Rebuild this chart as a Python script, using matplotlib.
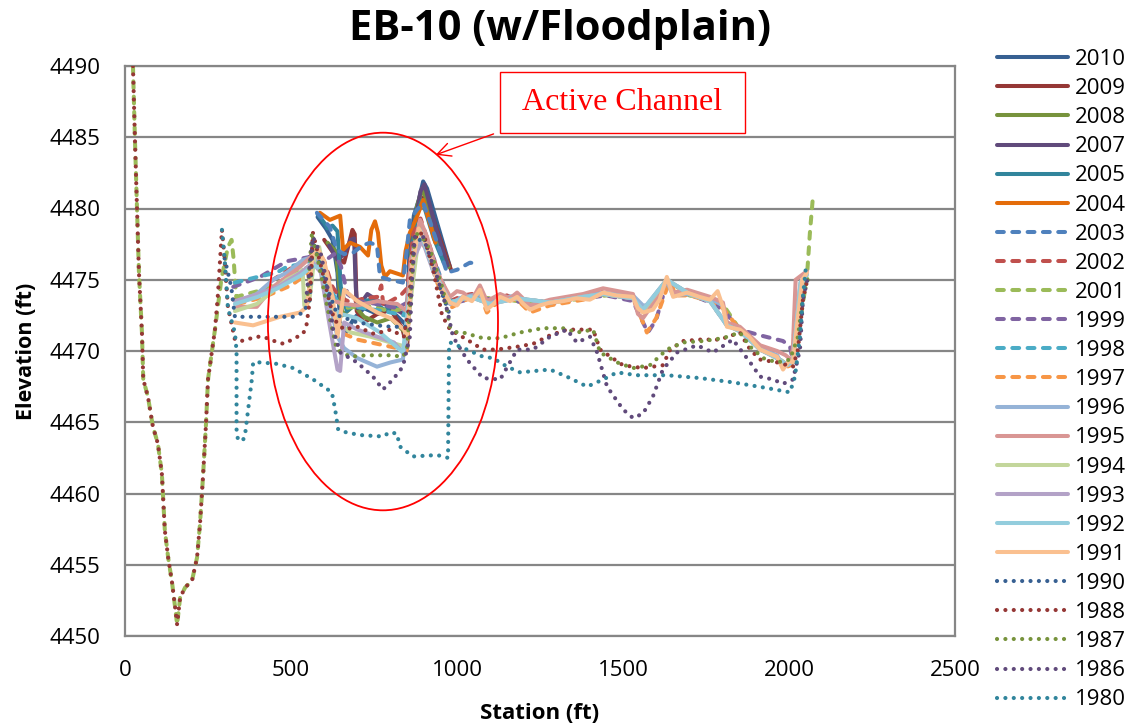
import matplotlib
matplotlib.use("Agg")
import matplotlib.pyplot as plt
from matplotlib.patches import Ellipse, Rectangle

# ---------------- data (station ft, elevation ft) ----------------
x_2010 = [580, 605, 625, 640, 648, 665, 690, 720, 760, 800, 830, 848, 856, 870, 885, 898, 910, 945, 979]
y_2010 = [4479.4, 4478.6, 4477.8, 4475.5, 4471.8, 4471.3, 4472.3, 4473.0, 4472.6, 4472.9, 4472.2, 4471.8, 4476.5, 4479.5, 4480.6, 4481.9, 4481.4, 4478.6, 4475.9]

x_2009 = [600, 630, 660, 685, 692, 698, 720, 760, 800, 835, 850, 860, 878, 905, 935, 982]
y_2009 = [4477.8, 4476.8, 4476.2, 4478.5, 4478.2, 4472.8, 4472.0, 4472.6, 4472.9, 4471.6, 4470.2, 4476.0, 4479.8, 4481.0, 4478.8, 4475.7]

x_2008 = [610, 635, 655, 690, 720, 760, 800, 840, 852, 862, 880, 895, 905, 940, 975]
y_2008 = [4477.6, 4477.0, 4472.5, 4473.2, 4472.4, 4472.0, 4472.3, 4471.4, 4471.8, 4476.8, 4480.2, 4481.4, 4480.8, 4478.0, 4475.9]

x_2007 = [615, 640, 660, 680, 690, 695, 700, 730, 770, 810, 845, 855, 870, 890, 902, 935, 972]
y_2007 = [4477.4, 4476.4, 4476.8, 4477.8, 4477.9, 4474.5, 4473.0, 4474.0, 4473.4, 4473.0, 4472.5, 4473.5, 4478.5, 4481.2, 4481.7, 4478.7, 4476.0]

x_2005 = [580, 600, 610, 625, 640, 650, 668, 700, 740, 780, 820, 850, 862, 878, 895, 930, 960]
y_2005 = [4479.6, 4479.0, 4478.6, 4478.8, 4478.4, 4474.5, 4472.8, 4473.4, 4473.6, 4472.9, 4473.2, 4472.8, 4476.5, 4479.6, 4480.6, 4477.9, 4476.2]

x_2004 = [587, 617, 648, 657, 678, 708, 732, 742, 753, 762, 772, 783, 798, 837, 845, 858, 879, 898, 915, 935]
y_2004 = [4479.7, 4479.2, 4479.5, 4477.1, 4477.6, 4477.3, 4476.7, 4478.5, 4479.1, 4478.3, 4476.0, 4475.2, 4475.6, 4475.3, 4477.0, 4478.3, 4479.4, 4480.6, 4479.2, 4477.6]

x_2003 = [578, 617, 638, 660, 687, 715, 738, 759, 768, 798, 837, 849, 858, 879, 898, 920, 940, 970, 1000, 1039, 1063]
y_2003 = [4479.7, 4478.7, 4477.1, 4476.8, 4476.9, 4477.4, 4477.6, 4477.4, 4475.2, 4475.0, 4474.8, 4477.1, 4479.2, 4479.9, 4480.4, 4479.0, 4477.6, 4475.5, 4475.7, 4476.2, 4476.1]

x_2002 = [326, 360, 397, 446, 500, 550, 575, 600, 625, 645, 680, 720, 760, 772, 778, 800, 830, 850, 868, 890, 920, 950, 979,
          1020, 1069, 1100, 1150, 1200, 1250, 1300, 1350, 1400, 1440]
y_2002 = [4473.6, 4473.6, 4473.9, 4475.0, 4475.8, 4476.5, 4477.0, 4476.3, 4474.5, 4473.8, 4473.4, 4473.7, 4473.8, 4474.6, 4473.2, 4473.5, 4473.9, 4474.4, 4478.2, 4479.3, 4477.2, 4475.0, 4473.5,
          4473.9, 4474.1, 4473.4, 4473.9, 4473.4, 4473.5, 4473.6, 4473.8, 4474.0, 4474.3]

x_2001 = [24, 30, 36, 42, 51, 55, 69, 84, 99, 111, 120, 130, 142, 151, 157, 166, 181, 202, 217, 226, 235, 244, 250, 262, 271, 290, 310, 321, 327, 335,
          400, 480, 560, 580, 620, 660, 720, 800, 850, 870, 895, 930, 979, 1050, 1150, 1250, 1350, 1450, 1530, 1560, 1632, 1700, 1800, 1852, 1913, 1964, 1995, 2012, 2033, 2054, 2063, 2072]
y_2001 = [4490.0, 4484.8, 4480.1, 4475.5, 4471.3, 4468.0, 4466.8, 4464.7, 4463.5, 4461.4, 4457.4, 4455.5, 4453.7, 4452.0, 4450.8, 4452.7, 4453.4, 4453.9, 4455.5, 4457.9, 4461.2, 4464.9, 4468.0, 4470.0, 4471.5, 4475.0, 4477.3, 4477.8, 4476.5, 4473.8,
          4474.2, 4475.0, 4476.0, 4476.5, 4474.0, 4473.0, 4473.2, 4472.8, 4473.0, 4477.0, 4478.8, 4476.0, 4473.4, 4473.8, 4473.6, 4473.3, 4473.6, 4473.9, 4473.7, 4472.8, 4475.0, 4473.9, 4473.3, 4471.5, 4470.2, 4469.6, 4469.0, 4469.4, 4472.0, 4475.2, 4478.3, 4480.8]

x_1999 = [326, 407, 487, 557, 566, 580, 600, 630, 650, 670, 700, 760, 820, 850, 870, 895, 930, 979, 1050, 1150, 1250, 1350, 1450, 1530, 1550, 1575, 1600, 1632, 1660, 1700, 1762, 1801, 1852, 1913, 1982, 2003, 2009, 2020, 2040]
y_1999 = [4474.5, 4475.2, 4476.3, 4476.6, 4477.5, 4477.0, 4476.3, 4476.8, 4476.0, 4474.0, 4473.5, 4473.3, 4473.0, 4473.4, 4477.5, 4478.5, 4476.5, 4473.3, 4473.7, 4473.6, 4473.2, 4473.6, 4473.9, 4473.5, 4472.5, 4471.3, 4472.2, 4474.8, 4473.9, 4474.0, 4473.4, 4472.9, 4471.5, 4471.1, 4470.7, 4470.3, 4469.6, 4472.5, 4475.0]

x_1998 = [331, 400, 457, 487, 530, 566, 585, 610, 640, 670, 720, 780, 840, 860, 880, 900, 935, 979, 1040, 1100, 1180, 1280, 1380, 1440, 1530, 1560, 1632, 1700, 1762, 1813, 1852, 1913, 1964, 1995, 2012, 2030, 2050]
y_1998 = [4474.8, 4475.2, 4475.5, 4475.9, 4476.1, 4476.4, 4476.2, 4474.6, 4473.5, 4473.2, 4473.0, 4472.8, 4472.5, 4474.5, 4477.8, 4478.2, 4476.0, 4473.5, 4473.9, 4473.4, 4473.7, 4473.4, 4473.8, 4474.0, 4473.7, 4472.8, 4475.0, 4474.0, 4473.5, 4471.8, 4471.4, 4470.2, 4469.5, 4469.0, 4469.2, 4472.5, 4475.3]

x_1997 = [340, 420, 500, 560, 580, 605, 630, 660, 700, 760, 820, 848, 862, 885, 910, 940, 979, 1018, 1069, 1090, 1130, 1181, 1220, 1280, 1380, 1440, 1530, 1550, 1572, 1600, 1640, 1660, 1700, 1762, 1801, 1852, 1913, 1964, 1985, 2005, 2020, 2040]
y_1997 = [4473.3, 4473.8, 4474.6, 4475.6, 4476.2, 4475.0, 4472.5, 4471.2, 4470.8, 4470.5, 4470.2, 4470.0, 4475.0, 4478.0, 4477.0, 4474.8, 4473.0, 4473.5, 4474.0, 4472.7, 4473.6, 4473.6, 4472.7, 4473.2, 4473.6, 4474.0, 4473.7, 4472.6, 4471.3, 4472.3, 4474.9, 4473.9, 4473.9, 4473.5, 4473.0, 4471.5, 4470.2, 4469.5, 4468.8, 4469.0, 4471.5, 4475.0]

x_1996 = [337, 397, 446, 487, 537, 566, 585, 610, 640, 660, 700, 759, 800, 837, 850, 870, 895, 930, 979, 1018, 1069, 1090, 1130, 1181, 1220, 1280, 1380, 1440, 1530, 1560, 1590, 1632, 1651, 1693, 1762, 1801, 1813, 1852, 1913, 1964, 1982, 2012, 2033, 2054]
y_1996 = [4473.4, 4474.0, 4475.0, 4475.5, 4476.4, 4476.6, 4476.0, 4474.0, 4471.0, 4470.2, 4469.5, 4468.9, 4469.2, 4469.4, 4472.0, 4477.0, 4478.5, 4476.0, 4473.3, 4473.8, 4474.0, 4473.2, 4473.7, 4473.9, 4473.2, 4473.5, 4473.9, 4474.1, 4473.9, 4473.2, 4473.2, 4474.9, 4473.9, 4474.0, 4473.7, 4473.2, 4471.9, 4471.6, 4470.2, 4469.7, 4469.0, 4469.4, 4474.5, 4475.4]

x_1995 = [337, 397, 446, 527, 560, 580, 605, 630, 660, 700, 760, 820, 848, 862, 889, 910, 940, 979, 1000, 1018, 1045, 1069, 1090, 1130, 1160, 1181, 1220, 1280, 1330, 1380, 1440, 1530, 1545, 1560, 1590, 1632, 1651, 1693, 1762, 1801, 1813, 1852, 1913, 1964, 1990, 2010, 2020, 2054]
y_1995 = [4473.1, 4473.1, 4474.5, 4475.9, 4476.6, 4476.8, 4475.0, 4473.5, 4473.3, 4473.2, 4473.5, 4473.3, 4472.8, 4476.5, 4479.2, 4478.0, 4475.5, 4473.8, 4474.2, 4474.1, 4473.6, 4474.6, 4473.5, 4474.0, 4473.7, 4474.1, 4473.2, 4473.6, 4473.8, 4474.0, 4474.4, 4474.0, 4472.6, 4472.3, 4473.3, 4475.0, 4474.1, 4474.3, 4473.8, 4473.4, 4472.0, 4471.7, 4470.4, 4470.0, 4469.7, 4469.3, 4475.0, 4475.6]

x_1994 = [331, 397, 450, 487, 527, 535, 540, 555, 570, 585, 610, 640, 680, 740, 800, 845, 860, 880, 900, 940, 979, 1040, 1100, 1180, 1280, 1380, 1440, 1530, 1560, 1632, 1700, 1762, 1813, 1852, 1913, 1964, 1995, 2012, 2035, 2054]
y_1994 = [4472.8, 4473.3, 4474.3, 4475.0, 4475.5, 4475.7, 4473.2, 4473.5, 4476.5, 4477.3, 4474.0, 4472.0, 4471.3, 4471.0, 4470.6, 4470.3, 4473.5, 4477.2, 4477.8, 4475.0, 4473.4, 4473.8, 4473.3, 4473.7, 4473.4, 4473.8, 4474.0, 4473.7, 4472.8, 4475.0, 4474.0, 4473.5, 4471.8, 4471.4, 4470.1, 4469.5, 4469.0, 4469.3, 4474.8, 4475.4]

x_1993 = [331, 400, 460, 530, 566, 590, 615, 640, 648, 660, 700, 760, 810, 840, 852, 870, 895, 930, 979, 1040, 1100, 1180, 1280, 1380, 1440, 1530, 1560, 1632, 1700, 1762, 1813, 1852, 1913, 1964, 1995, 2012, 2035, 2054]
y_1993 = [4473.5, 4474.0, 4474.5, 4475.5, 4476.2, 4475.5, 4472.0, 4468.7, 4468.6, 4472.0, 4471.5, 4471.0, 4470.6, 4469.8, 4472.0, 4476.5, 4477.8, 4475.5, 4473.4, 4473.8, 4473.3, 4473.7, 4473.4, 4473.8, 4474.0, 4473.7, 4472.9, 4475.0, 4474.0, 4473.5, 4471.8, 4471.4, 4470.1, 4469.5, 4469.0, 4469.3, 4474.8, 4475.4]

x_1992 = [331, 400, 460, 530, 566, 590, 620, 650, 700, 768, 837, 850, 870, 890, 930, 979, 1040, 1100, 1180, 1280, 1380, 1440, 1530, 1560, 1632, 1700, 1762, 1813, 1852, 1913, 1964, 1995, 2012, 2035, 2054]
y_1992 = [4473.3, 4473.8, 4474.4, 4475.3, 4476.0, 4475.8, 4473.1, 4472.6, 4472.3, 4471.3, 4469.9, 4472.5, 4477.0, 4478.4, 4475.6, 4473.4, 4473.8, 4473.3, 4473.7, 4473.4, 4473.8, 4474.0, 4473.7, 4472.9, 4475.0, 4474.0, 4473.5, 4471.8, 4471.4, 4470.1, 4469.5, 4469.0, 4469.3, 4474.8, 4475.4]

x_1991 = [331, 386, 467, 527, 548, 566, 578, 600, 625, 640, 660, 700, 760, 800, 840, 850, 865, 885, 910, 940, 979,
          1000, 1018, 1045, 1069, 1090, 1110, 1130, 1160, 1181, 1200, 1220, 1250, 1280, 1320, 1360, 1400, 1440, 1480, 1530, 1545, 1560, 1590, 1610, 1632, 1651, 1693, 1730, 1762, 1785, 1801, 1813, 1852, 1880, 1913, 1964, 1982, 2000, 2012, 2025, 2040, 2054]
y_1991 = [4472.0, 4471.8, 4472.4, 4472.7, 4473.1, 4476.9, 4477.3, 4476.3, 4473.8, 4471.0, 4474.3, 4473.5, 4472.7, 4472.3, 4471.5, 4471.0, 4476.0, 4478.6, 4477.3, 4475.0, 4473.4,
          4473.2, 4473.8, 4473.5, 4474.3, 4472.9, 4473.3, 4473.8, 4473.5, 4473.8, 4473.3, 4472.9, 4473.2, 4473.4, 4473.5, 4473.7, 4473.6, 4474.1, 4473.9, 4473.8, 4473.0, 4472.7, 4472.9, 4473.6, 4475.2, 4473.8, 4474.1, 4473.8, 4473.6, 4474.2, 4473.1, 4471.7, 4471.5, 4471.0, 4470.1, 4469.6, 4468.7, 4469.3, 4469.2, 4472.0, 4475.0, 4475.5]

x_1990 = [300, 320, 331, 427, 507, 537, 557, 566, 600, 640, 700, 760, 800, 850, 860, 870, 900, 940, 979]
y_1990 = [4476.5, 4474.5, 4472.4, 4472.4, 4472.4, 4472.7, 4473.6, 4477.8, 4475.0, 4472.5, 4472.0, 4471.8, 4471.7, 4471.7, 4474.0, 4477.5, 4478.0, 4475.0, 4472.5]

x_1988 = [24, 30, 36, 42, 51, 55, 69, 84, 99, 111, 120, 130, 142, 151, 157, 166, 181, 202, 217, 226, 235, 244, 250, 262, 271, 280, 292, 298, 310, 331, 350, 397, 416, 461, 479, 503, 536, 546, 557, 566,
          590, 610, 630, 660, 700, 750, 800, 840, 855, 865, 880, 900, 930, 955, 979, 1030, 1078, 1120, 1181, 1229, 1280, 1331, 1410, 1431, 1500, 1560, 1620, 1642, 1681, 1732, 1792, 1852, 1883, 1913, 1964, 2012, 2027, 2042, 2057]
y_1988 = [4490.0, 4484.8, 4480.1, 4475.5, 4471.3, 4468.0, 4466.8, 4464.7, 4463.5, 4461.4, 4457.4, 4455.5, 4453.7, 4452.0, 4450.8, 4452.7, 4453.4, 4453.9, 4455.5, 4457.9, 4461.2, 4464.9, 4468.0, 4470.0, 4471.5, 4474.0, 4478.5, 4477.0, 4473.1, 4470.8, 4470.7, 4471.0, 4471.0, 4470.6, 4470.5, 4470.8, 4471.2, 4471.7, 4473.6, 4478.3,
          4476.0, 4474.0, 4472.2, 4471.5, 4471.7, 4471.2, 4471.5, 4471.0, 4473.0, 4477.0, 4478.3, 4478.2, 4475.5, 4472.5, 4471.5, 4470.8, 4470.1, 4470.1, 4470.3, 4470.5, 4471.1, 4471.5, 4471.5, 4470.1, 4469.0, 4468.8, 4469.0, 4470.1, 4470.7, 4470.8, 4470.8, 4471.3, 4470.1, 4469.4, 4469.2, 4468.9, 4470.1, 4473.6, 4475.2]

x_1987 = [550, 563, 580, 610, 638, 678, 728, 798, 837, 849, 864, 873, 895, 919, 958, 979, 1000, 1018, 1078, 1130, 1190, 1259, 1319, 1361, 1410, 1431, 1482, 1530, 1581, 1632, 1681, 1741, 1801, 1852, 1883, 1922, 1964, 2003, 2027, 2042, 2063]
y_1987 = [4474.0, 4478.3, 4476.5, 4473.0, 4470.1, 4469.6, 4469.7, 4469.7, 4469.6, 4470.1, 4474.8, 4478.3, 4478.0, 4477.1, 4474.3, 4471.7, 4471.3, 4471.3, 4470.9, 4470.9, 4471.3, 4471.6, 4471.6, 4471.3, 4471.5, 4469.9, 4469.2, 4468.8, 4469.0, 4470.1, 4470.6, 4470.7, 4470.9, 4471.3, 4470.3, 4469.5, 4469.2, 4469.4, 4471.0, 4473.8, 4475.5]

x_1986 = [545, 566, 590, 608, 627, 648, 699, 747, 777, 807, 837, 858, 864, 873, 898, 940, 970, 988, 1030, 1078, 1130, 1181, 1229, 1280, 1331, 1361, 1401, 1422, 1452, 1500, 1530, 1560, 1590, 1620, 1663, 1723, 1771, 1831, 1883, 1913, 1952, 1982, 2012, 2033, 2042, 2057]
y_1986 = [4473.5, 4478.0, 4476.8, 4474.8, 4471.5, 4469.9, 4469.2, 4468.2, 4467.3, 4468.0, 4468.9, 4471.0, 4474.8, 4478.0, 4478.0, 4475.2, 4472.9, 4471.0, 4469.4, 4468.1, 4468.0, 4470.1, 4470.1, 4471.0, 4471.5, 4470.6, 4471.0, 4469.9, 4467.5, 4465.9, 4465.3, 4465.6, 4466.8, 4468.7, 4469.9, 4470.4, 4469.9, 4470.8, 4469.2, 4468.2, 4468.0, 4467.7, 4468.0, 4470.1, 4473.6, 4475.2]

x_1980 = [292, 300, 310, 331, 336, 336, 340, 355, 362, 382, 386, 407, 457, 507, 567, 623, 633, 642, 665, 708, 777, 798, 819, 828, 867, 940, 973, 976, 979, 1030, 1078, 1108, 1151, 1190, 1280, 1331, 1392, 1440, 1482, 1542, 1632, 1732, 1831, 1934, 2003, 2018, 2033, 2042, 2051]
y_1980 = [4478.5, 4476.5, 4473.0, 4471.3, 4470.0, 4464.5, 4463.8, 4463.7, 4464.2, 4468.0, 4469.2, 4469.2, 4469.1, 4468.8, 4468.0, 4467.1, 4465.9, 4464.5, 4464.3, 4464.1, 4464.0, 4464.3, 4464.2, 4463.3, 4462.6, 4462.7, 4462.5, 4470.1, 4470.6, 4470.1, 4469.6, 4469.5, 4468.9, 4468.5, 4468.7, 4468.2, 4467.5, 4468.0, 4468.5, 4468.3, 4468.3, 4468.1, 4467.8, 4467.4, 4467.1, 4468.2, 4471.0, 4473.8, 4475.9]

years = ["2010", "2009", "2008", "2007", "2005", "2004", "2003", "2002", "2001", "1999", "1998", "1997",
         "1996", "1995", "1994", "1993", "1992", "1991", "1990", "1988", "1987", "1986", "1980"]
xs = [x_2010, x_2009, x_2008, x_2007, x_2005, x_2004, x_2003, x_2002, x_2001, x_1999, x_1998, x_1997,
      x_1996, x_1995, x_1994, x_1993, x_1992, x_1991, x_1990, x_1988, x_1987, x_1986, x_1980]
ys = [y_2010, y_2009, y_2008, y_2007, y_2005, y_2004, y_2003, y_2002, y_2001, y_1999, y_1998, y_1997,
      y_1996, y_1995, y_1994, y_1993, y_1992, y_1991, y_1990, y_1988, y_1987, y_1986, y_1980]
colors = ["#376092", "#953735", "#77933C", "#604A7B", "#31859C", "#E46C0A",
          "#4F81BD", "#C0504D", "#9BBB59", "#8064A2", "#4BACC6", "#F79646",
          "#95B3D7", "#D99694", "#C3D69B", "#B3A2C7", "#93CDDD", "#FAC090",
          "#376092", "#953735", "#77933C", "#604A7B", "#31859C"]
kinds = ["solid"] * 6 + ["dash"] * 6 + ["solid"] * 6 + ["dot"] * 5

# ---------------- figure ----------------
W, H = 1139, 728
fig = plt.figure(figsize=(W / 100, H / 100), dpi=100)
ax = fig.add_axes([125 / W, 1 - 636 / H, (955 - 125) / W, (636 - 66) / H])

FONT = "Open Sans"
for i, (yr, x, y, c, k) in enumerate(zip(years, xs, ys, colors, kinds)):
    kw = dict(color=c, lw=2.9, label=yr, zorder=3 + i * 0.01, solid_capstyle="round", solid_joinstyle="round")
    if k == "dash":
        kw.update(dashes=(1.7, 2.1), dash_capstyle="round")
    elif k == "dot":
        kw.update(lw=3.0, dashes=(0.01, 2.0), dash_capstyle="round")
    ax.plot(x, y, **kw)

ax.set_xlim(0, 2500)
ax.set_ylim(4450, 4490)
ax.set_xticks(range(0, 2501, 500))
ax.set_yticks(range(4450, 4491, 5))
ax.yaxis.grid(True, color="#868686", lw=1.6, zorder=1)
ax.set_axisbelow(True)
for s in ax.spines.values():
    s.set_color("#868686")
    s.set_linewidth(1.6)
ax.tick_params(axis="both", length=0, labelsize=16, colors="black")
ax.tick_params(axis="y", pad=18)
ax.tick_params(axis="x", pad=17)
for lab in ax.get_xticklabels() + ax.get_yticklabels():
    lab.set_fontfamily(FONT)

ax.set_xlabel("Station (ft)", fontsize=16, fontweight="bold", family=FONT, labelpad=16)
ax.set_ylabel("Elevation (ft)", fontsize=15.5, fontweight="bold", family=FONT, labelpad=9)
fig.text(560 / W, 1 - 29 / H, "EB-10 (w/Floodplain)", ha="center", va="center",
         fontsize=30, fontweight="bold", family=FONT)

# annotations
ax.add_patch(Ellipse((777, 4472.07), 693, 26.5, fill=False, edgecolor="red", lw=1.3, zorder=10))
ax.add_patch(Rectangle((1130, 4485.3), 737, 4.3, fill=False, edgecolor="red", lw=1.0, zorder=10, clip_on=False))
ax.text(1498, 4487.45, "Active Channel", color="red", fontsize=23, family="Liberation Serif",
        ha="center", va="center", zorder=11)
ax.annotate("", xy=(928, 4483.7), xytext=(1118, 4485.3),
            arrowprops=dict(arrowstyle="->", color="red", lw=1.0, mutation_scale=24), zorder=11)

leg = fig.legend(loc="upper left", bbox_to_anchor=(997 / W, 1 - 49 / H), frameon=False,
                 prop={"family": FONT, "size": 16}, handlelength=3.2, handletextpad=0.3,
                 labelspacing=0.365, borderpad=0, borderaxespad=0)

fig.savefig("out.png", dpi=100)
